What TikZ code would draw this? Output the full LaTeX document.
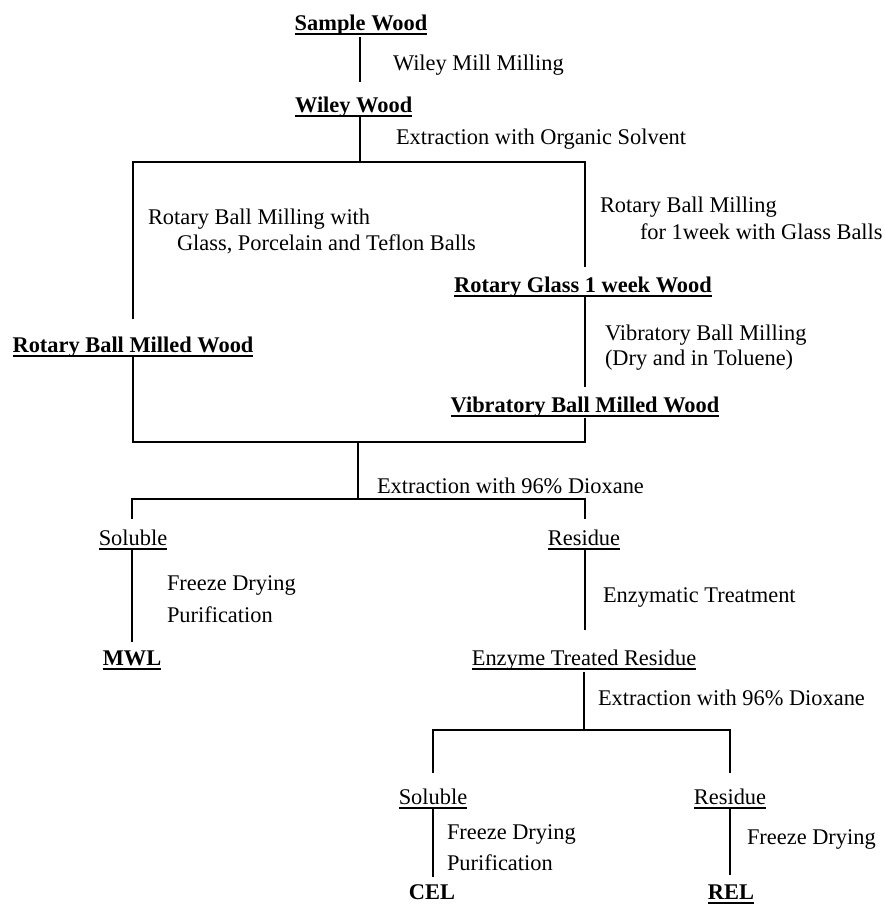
\documentclass[tikz,border=0pt]{standalone}
\usepackage{fontspec}
\setmainfont{Liberation Serif}
\newcommand{\ulbox}[1]{\setbox0=\hbox{#1}\rlap{\rule[-4.5pt]{\wd0}{1.8pt}}\box0}
\newcommand{\basefont}{\fontsize{22.4pt}{26pt}\selectfont}
\tikzset{
  every node/.style={inner sep=0pt, outer sep=0pt},
  main/.style={anchor=base, font=\basefont\bfseries},
  sub/.style={anchor=base, font=\basefont},
  lab/.style={anchor=base west, font=\basefont},
  conn/.style={line width=2pt, line cap=butt, line join=miter}
}
\begin{document}
\begin{tikzpicture}[x=1pt, y=-1pt]
\useasboundingbox (0,0) rectangle (884,905);
% main nodes
\node[main] (sample) at (361,30) {\ulbox{Sample Wood}};
\node[main, anchor=base west] (wiley) at (295,112) {\ulbox{Wiley Wood}};
\node[main] (rglass) at (583,292) {\ulbox{Rotary Glass 1 week Wood}};
\node[main] (vib) at (585,412) {\ulbox{Vibratory Ball Milled Wood}};
\node[main] (rbm) at (133,352) {\ulbox{Rotary Ball Milled Wood}};
\node[sub] (sol1) at (133,545) {\ulbox{Soluble}};
\node[sub] (res1) at (584,545) {\ulbox{Residue}};
\node[main] (mwl) at (132,665) {\ulbox{MWL}};
\node[sub] (etr) at (584,665) {\ulbox{Enzyme Treated Residue}};
\node[sub] (sol2) at (433,804) {\ulbox{Soluble}};
\node[sub] (res2) at (730,804) {\ulbox{Residue}};
\node[main] (cel) at (432,899) {CEL};
\node[main] (rel) at (731,899) {\ulbox{REL}};
% labels
\node[lab] (l1) at (393,70) {Wiley Mill Milling};
\node[lab] (l2) at (396,144) {Extraction with Organic Solvent};
\node[lab] (l3a) at (148,224) {Rotary Ball Milling with};
\node[lab] (l3b) at (177,250) {Glass, Porcelain and Teflon Balls};
\node[lab] (l4a) at (600,212) {Rotary Ball Milling};
\node[lab] (l4b) at (640,239) {for 1week with Glass Balls};
\node[lab] (l5a) at (605,340) {Vibratory Ball Milling};
\node[lab] (l5b) at (605,365) {(Dry and in Toluene)};
\node[lab] (l6) at (377,493) {Extraction with 96\% Dioxane};
\node[lab] (l7a) at (167,590) {Freeze Drying};
\node[lab] (l7b) at (167,622) {Purification};
\node[lab] (l8) at (603,602) {Enzymatic Treatment};
\node[lab] (l9) at (598,705) {Extraction with 96\% Dioxane};
\node[lab] (l10a) at (447,839) {Freeze Drying};
\node[lab] (l10b) at (447,870) {Purification};
\node[lab] (l11) at (747,844) {Freeze Drying};
% connector points
\coordinate (a1) at (360,37);  \coordinate (a2) at (360,82);
\coordinate (b1) at (360,117); \coordinate (b2) at (360,162);
\coordinate (bl) at (133,162); \coordinate (br) at (585,162);
\coordinate (bl2) at (133,319); \coordinate (br2) at (585,267);
\coordinate (g1) at (585,297); \coordinate (g2) at (585,387);
\coordinate (m1) at (133,357); \coordinate (m2) at (585,418);
\coordinate (ml) at (133,442); \coordinate (mr) at (585,442);
\coordinate (d1) at (358,442); \coordinate (d2) at (358,499);
\coordinate (dl) at (132,499); \coordinate (dr) at (585,499);
\coordinate (dl2) at (132,519); \coordinate (dr2) at (585,519);
\coordinate (s1) at (132,548); \coordinate (s2) at (132,642);
\coordinate (r1) at (585,550); \coordinate (r2) at (585,630);
\coordinate (e1) at (584,672); \coordinate (e2) at (584,730);
\coordinate (el) at (433,730); \coordinate (er) at (730,730);
\coordinate (el2) at (433,773); \coordinate (er2) at (730,773);
\coordinate (c1) at (433,808); \coordinate (c2) at (433,877);
\coordinate (q1) at (730,808); \coordinate (q2) at (730,875);
% connectors
\draw[conn] (a1) -- (a2);
\draw[conn] (b1) -- (b2);
\draw[conn] (bl2) -- (bl) -- (br) -- (br2);
\draw[conn] (g1) -- (g2);
\draw[conn] (m1) -- (ml) -- (mr) -- (m2);
\draw[conn] (d1) -- (d2);
\draw[conn] (dl2) -- (dl) -- (dr) -- (dr2);
\draw[conn] (s1) -- (s2);
\draw[conn] (r1) -- (r2);
\draw[conn] (e1) -- (e2);
\draw[conn] (el2) -- (el) -- (er) -- (er2);
\draw[conn] (c1) -- (c2);
\draw[conn] (q1) -- (q2);
\end{tikzpicture}
\end{document}
